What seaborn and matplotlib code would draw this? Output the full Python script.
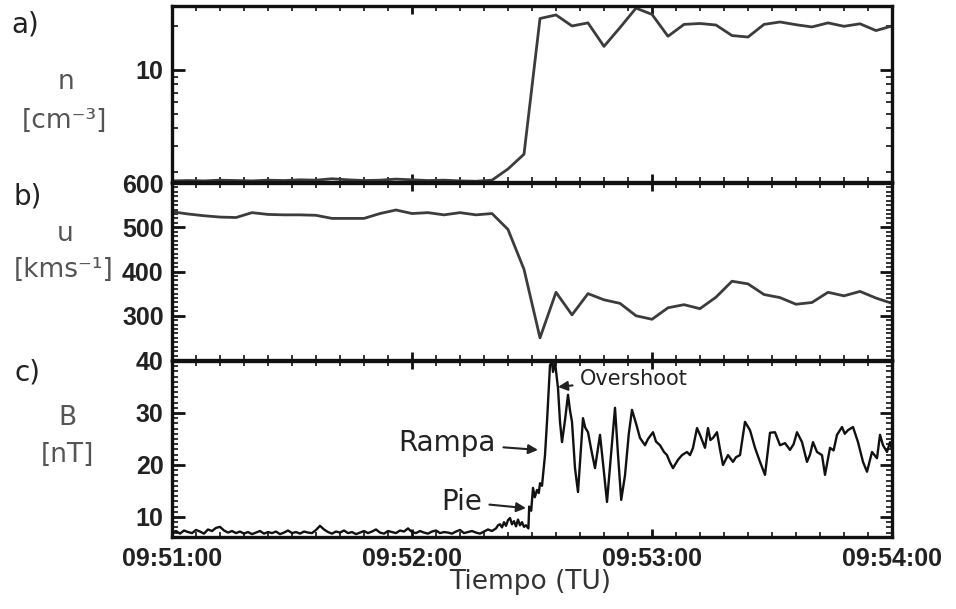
import numpy as np
import pandas as pd
import matplotlib
matplotlib.use("Agg")
import matplotlib.pyplot as plt
import seaborn as sns
from matplotlib.ticker import (MultipleLocator, NullFormatter, LogLocator, FixedLocator,
                               FormatStrFormatter)
from matplotlib.font_manager import FontProperties

# ---------------- data (seconds after 09:51:00) ----------------
n_time = list(range(0, 181, 4))
n_vals = [1.74, 1.75, 1.74, 1.76, 1.75, 1.74, 1.76, 1.75, 1.77, 1.76,
          1.80, 1.77, 1.75, 1.76, 1.79, 1.77, 1.75, 1.76, 1.74, 1.73,
          1.76, 2.10, 2.65, 22.5, 23.8, 20.0, 21.0, 14.5, 19.5, 26.5,
          24.0, 17.0, 20.5, 20.8, 20.3, 17.2, 16.8, 20.5, 21.3, 20.4,
          19.7, 21.0, 19.9, 20.7, 18.6, 20.0]

u_time = list(range(0, 181, 4))
u_vals = [535, 530, 526, 523, 522, 533, 529, 528, 528, 527,
          520, 520, 520, 531, 539, 531, 533, 528, 533, 528,
          531, 495, 405, 250, 353, 302, 350, 336, 328, 300,
          292, 318, 325, 316, 342, 378, 372, 348, 341, 326,
          330, 353, 345, 355, 340, 328]

B_time_up = list(range(0, 81))
B_up = [7.0, 7.3, 6.8, 7.4, 7.1, 6.9, 7.5, 7.2, 6.8, 7.6,
        7.3, 7.9, 8.1, 7.4, 7.0, 7.3, 6.9, 7.2, 6.8, 7.1,
        6.7, 7.0, 7.3, 6.8, 7.1, 6.9, 7.2, 6.7, 7.0, 7.4,
        6.9, 7.1, 6.8, 7.2, 7.0, 6.9, 7.5, 8.3, 7.6, 7.1,
        6.8, 7.2, 7.0, 7.4, 6.9, 7.1, 6.7, 7.0, 7.3, 6.9,
        7.2, 7.6, 7.0, 6.8, 7.3, 7.1, 6.9, 7.4, 7.2, 7.8,
        7.1, 6.9, 7.3, 7.0, 6.8, 7.2, 7.4, 6.9, 7.1, 7.0,
        6.8, 7.2, 7.5, 6.9, 7.1, 7.3, 7.0, 6.8, 7.2, 7.6,
        7.3]

B_time_dn = [81, 81.5, 82, 82.5, 83, 83.5, 84, 84.5, 85, 85.5,
             86, 86.5, 87, 87.5, 88, 88.5, 89.1, 89.3, 89.8, 90.25,
             90.7, 91.25, 91.7, 92, 92.5, 92.75, 93.25, 93.75, 94.2, 94.5,
             95, 95.25, 95.75, 96.5, 97, 97.5, 98.25, 99, 99.5, 100,
             100.75, 101.5, 102.75, 103.3, 104, 104.8, 105.75, 107, 107.8, 108.75,
             110.75, 111.5, 112.3, 113.25, 114.2, 115, 116, 117, 118.25, 119,
             120.25, 121, 122, 123, 123.75, 124.5, 125.25, 126.5, 127.5, 128.75,
             129.5, 130.25, 131.25, 132, 133.25, 134, 134.6, 135.25, 136.25, 137,
             137.75, 139, 140.25, 141, 142, 143.25, 144.5, 145.75, 147, 148.25,
             149.5, 150.75, 152, 153.25, 154.5, 155.4, 156.25, 157.5, 158.75, 159.5,
             160.25, 161.25, 162.5, 163.25, 164.5, 165.4, 166.25, 167.5, 168.2, 169,
             170.25, 171.5, 172.75, 173.75, 175, 176.25, 177, 177.75, 178.75, 179.5,
             180]
B_dn = [7.8, 8.4, 8.6, 8.0, 9.0, 8.3, 9.4, 9.8, 8.6, 9.2,
        8.2, 9.5, 8.4, 9.0, 8.1, 8.4, 7.8, 12.0, 11.2, 15.6,
        13.8, 15.2, 14.6, 16.5, 16.0, 18.0, 21.9, 28.3, 35.0, 39.2,
        39.8, 37.9, 39.8, 34.8, 28.3, 24.4, 28.6, 33.5, 30.5, 28.3,
        19.4, 14.8, 29.0, 27.2, 26.3, 23.0, 19.4, 25.8, 20.0, 12.9,
        31.0, 22.0, 13.3, 18.0, 26.0, 30.6, 28.0, 25.2, 23.8, 25.0,
        26.3, 24.5, 23.8, 22.5, 21.9, 20.5, 19.4, 21.0, 21.9, 22.5,
        21.9, 23.3, 27.1, 25.8, 23.3, 27.1, 24.8, 25.2, 26.3, 23.0,
        20.0, 21.9, 20.6, 21.5, 21.9, 28.3, 26.7, 23.3, 20.6, 18.1,
        26.2, 26.3, 23.8, 24.2, 22.9, 24.0, 26.3, 24.4, 20.6, 22.0,
        24.4, 22.5, 21.9, 18.1, 23.3, 22.8, 25.8, 27.3, 26.0, 26.7,
        27.3, 24.4, 20.6, 18.7, 22.5, 21.3, 25.8, 23.8, 22.5, 24.4,
        23.0]

x_ticks = [0, 60, 120, 180]
x_labels = ["09:51:00", "09:52:00", "09:53:00", "09:54:00"]

# ---------------- figure ----------------
sns.set_style("ticks")
plt.rcParams['font.family'] = ['DejaVu Sans']

W, H = 956, 609
fig = plt.figure(figsize=(W / 100, H / 100), dpi=100)
L, R = 172 / W, 892 / W


def box(top, bottom):
    return [L, 1 - bottom / H, R - L, (bottom - top) / H]


ax_a = fig.add_axes(box(6, 182))
ax_b = fig.add_axes(box(183, 360))
ax_c = fig.add_axes(box(361, 537))

sns.lineplot(x=n_time, y=n_vals, ax=ax_a, color="#3c3c3c", lw=2.0)
sns.lineplot(x=u_time, y=u_vals, ax=ax_b, color="#3c3c3c", lw=2.0)
B_time = B_time_up + B_time_dn
B_vals = B_up + B_dn
sns.lineplot(x=B_time, y=B_vals, ax=ax_c, color="#111111", lw=1.7, sort=False)

# panel a: log scale
ax_a.set_yscale("log")
ax_a.set_ylim(1.71, 27.4)
ax_a.yaxis.set_major_locator(FixedLocator([10]))
ax_a.yaxis.set_major_formatter(FormatStrFormatter("%d"))
ax_a.yaxis.set_minor_locator(LogLocator(base=10, subs=np.arange(2, 10)))
ax_a.yaxis.set_minor_formatter(NullFormatter())

ax_b.set_ylim(200, 600)
ax_b.set_yticks([300, 400, 500, 600])
ax_b.yaxis.set_minor_locator(MultipleLocator(10))

ax_c.set_ylim(6.15, 40)
ax_c.set_yticks([10, 20, 30, 40])
ax_c.yaxis.set_minor_locator(MultipleLocator(1))

tick_fp = FontProperties(family="Liberation Sans", weight="bold", size=18)
for ax in (ax_a, ax_b, ax_c):
    ax.set_xlim(0, 180)
    ax.set_xticks(x_ticks)
    ax.xaxis.set_minor_locator(MultipleLocator(6))
    ax.tick_params(axis="both", which="both", direction="in", top=True, right=True,
                   colors="#111111", labelcolor="#222222")
    ax.tick_params(axis="y", which="major", length=9, width=2.0, pad=6)
    ax.tick_params(axis="y", which="minor", length=4.5, width=1.2)
    ax.tick_params(axis="x", which="major", length=6, width=2.0, pad=7)
    ax.tick_params(axis="x", which="minor", length=3.5, width=1.2)
    for sp in ax.spines.values():
        sp.set_linewidth(2.4)
        sp.set_color("#111111")
    ax.set_xlabel("")
    ax.set_ylabel("")
    ax.set_facecolor("white")

ax_a.tick_params(labelbottom=False)
ax_b.tick_params(labelbottom=False)
ax_c.set_xticklabels(x_labels)
for ax in (ax_a, ax_b, ax_c):
    plt.setp(ax.get_yticklabels(), fontproperties=tick_fp)
plt.setp(ax_c.get_xticklabels(), fontproperties=tick_fp)

# annotations
arrow = dict(arrowstyle="-|>", color="#222222", lw=1.5, mutation_scale=14,
             shrinkA=3, shrinkB=0)
ax_c.annotate("Overshoot", xy=(96.5, 35.0), xytext=(102, 36.6), ha="left", va="center",
              fontsize=15, color="#222222", arrowprops=arrow)
ax_c.annotate("Rampa", xy=(91.5, 22.9), xytext=(81.0, 24.2), ha="right", va="center",
              fontsize=20, color="#222222", arrowprops=arrow)
ax_c.annotate("Pie", xy=(88.5, 11.7), xytext=(77.5, 12.9), ha="right", va="center",
              fontsize=20, color="#222222", arrowprops=arrow)


def ft(x, y, s, **kw):
    fig.text(x / W, 1 - y / H, s, ha="center", va="center", **kw)


lab_kw = dict(fontsize=19, color="#555555")
ft(25, 24, "a)", fontsize=20, color="#222222")
ft(28, 196, "b)", fontsize=20, color="#222222")
ft(28, 372, "c)", fontsize=20, color="#222222")
ft(66, 82, "n", **lab_kw)
ft(64, 121, "[cm\u207b\u00b3]", **lab_kw)
ft(65, 234, "u", **lab_kw)
ft(64, 270, "[kms\u207b\u00b9]", **lab_kw)
ft(67, 418, "B", **lab_kw)
ft(67, 455, "[nT]", **lab_kw)
ft(530, 582, "Tiempo (TU)", fontsize=19, color="#333333")

fig.savefig("out.png", dpi=100, facecolor="white")
